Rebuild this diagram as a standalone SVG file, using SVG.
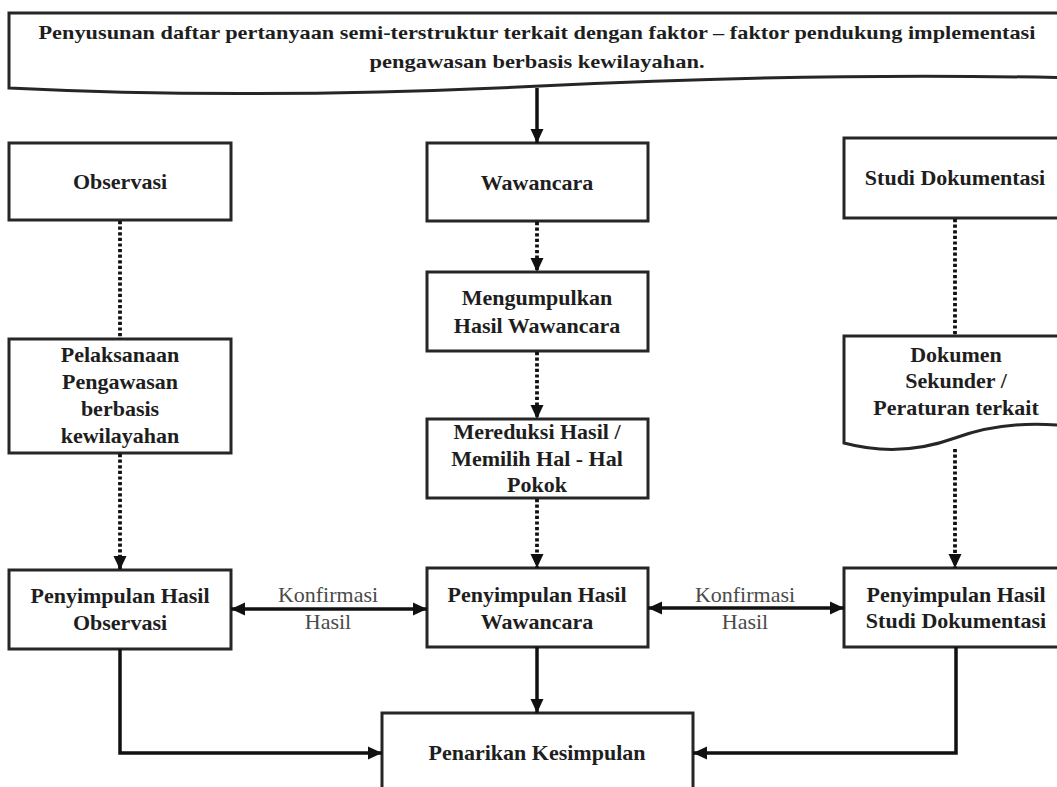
<svg xmlns="http://www.w3.org/2000/svg" width="1057" height="787" viewBox="0 0 1057 787">
<style>
.box{fill:#fff;stroke:#262626;stroke-width:3}
.t{font-family:"Liberation Serif","Times New Roman",serif;font-weight:bold;font-size:22px;fill:#1e1e1e;text-anchor:middle}
.top{font-family:"Liberation Serif","Times New Roman",serif;font-weight:bold;font-size:19px;fill:#1e1e1e;text-anchor:middle}
.lbl{font-family:"Liberation Serif","Times New Roman",serif;font-size:22px;fill:#4a4a4a;text-anchor:middle}
.solid{fill:none;stroke:#111;stroke-width:3.5}
.dot{fill:none;stroke:#111;stroke-width:3.8;stroke-dasharray:3.2 2.4}
</style>
<defs>
<marker id="ah" markerUnits="userSpaceOnUse" markerWidth="15" markerHeight="15" viewBox="0 0 15 15" refX="14" refY="7.5" orient="auto-start-reverse">
<path d="M0,1 L14,7.5 L0,14 Z" fill="#111"/>
</marker>
</defs>
<rect width="1057" height="787" fill="#fff"/>

<g id="top">
<path class="box" d="M9,13 H1075 V78 Q830,72 540,86 Q250,100 9,88 Z"/>
<text class="top" x="537" y="39" textLength="997" lengthAdjust="spacingAndGlyphs">Penyusunan daftar pertanyaan semi-terstruktur terkait dengan faktor – faktor pendukung implementasi</text>
<text class="top" x="537" y="68" textLength="335" lengthAdjust="spacingAndGlyphs">pengawasan berbasis kewilayahan.</text>
</g>

<g id="observasi">
<rect class="box" x="9" y="143" width="222" height="77"/>
<text class="t" x="120" y="189">Observasi</text>
</g>
<g id="wawancara">
<rect class="box" x="427" y="143" width="221" height="78"/>
<text class="t" x="537" y="190">Wawancara</text>
</g>
<g id="studi">
<rect class="box" x="844" y="138" width="226" height="80"/>
<text class="t" x="955" y="185">Studi Dokumentasi</text>
</g>

<g id="pelaksanaan">
<rect class="box" x="9" y="339" width="222" height="114"/>
<text class="t" x="120" y="362">Pelaksanaan</text>
<text class="t" x="120" y="389">Pengawasan</text>
<text class="t" x="120" y="416">berbasis</text>
<text class="t" x="120" y="443">kewilayahan</text>
</g>
<g id="mengumpulkan">
<rect class="box" x="427" y="272" width="221" height="79"/>
<text class="t" x="537" y="305">Mengumpulkan</text>
<text class="t" x="537" y="333">Hasil Wawancara</text>
</g>
<g id="mereduksi">
<rect class="box" x="427" y="419" width="221" height="79"/>
<text class="t" x="537" y="439">Mereduksi Hasil /</text>
<text class="t" x="537" y="466">Memilih Hal - Hal</text>
<text class="t" x="537" y="492">Pokok</text>
</g>
<g id="dokumen">
<path class="box" d="M844,336 H1075 V427 Q1010,418 955,438 Q900,458 844,443 Z"/>
<text class="t" x="956" y="362">Dokumen</text>
<text class="t" x="956" y="388">Sekunder /</text>
<text class="t" x="956" y="415">Peraturan terkait</text>
</g>

<g id="simpul-obs">
<rect class="box" x="9" y="570" width="222" height="79"/>
<text class="t" x="120" y="603">Penyimpulan Hasil</text>
<text class="t" x="120" y="630">Observasi</text>
</g>
<g id="simpul-waw">
<rect class="box" x="427" y="568" width="221" height="79"/>
<text class="t" x="537" y="602">Penyimpulan Hasil</text>
<text class="t" x="537" y="629">Wawancara</text>
</g>
<g id="simpul-studi">
<rect class="box" x="844" y="568" width="226" height="79"/>
<text class="t" x="956" y="602">Penyimpulan Hasil</text>
<text class="t" x="956" y="628">Studi Dokumentasi</text>
</g>
<g id="penarikan">
<rect class="box" x="382" y="713" width="311" height="90"/>
<text class="t" x="537" y="760">Penarikan Kesimpulan</text>
</g>

<g id="connectors">
<path class="solid" d="M537,88 V143" marker-end="url(#ah)"/>
<path class="dot" d="M120,221 V339"/>
<path class="dot" d="M120,454 V570" marker-end="url(#ah)"/>
<path class="dot" d="M537,222 V272" marker-end="url(#ah)"/>
<path class="dot" d="M537,352 V419" marker-end="url(#ah)"/>
<path class="dot" d="M537,499 V568" marker-end="url(#ah)"/>
<path class="dot" d="M955,219 V336"/>
<path class="dot" d="M955,449 V568" marker-end="url(#ah)"/>
<path class="solid" d="M231,609 H427" marker-start="url(#ah)" marker-end="url(#ah)"/>
<path class="solid" d="M648,608 H844" marker-start="url(#ah)" marker-end="url(#ah)"/>
<path class="solid" d="M120,649 V753 H382" marker-end="url(#ah)"/>
<path class="solid" d="M537,647 V713" marker-end="url(#ah)"/>
<path class="solid" d="M956,647 V753 H693" marker-end="url(#ah)"/>
<text class="lbl" x="328" y="602">Konfirmasi</text>
<text class="lbl" x="328" y="629">Hasil</text>
<text class="lbl" x="745" y="602">Konfirmasi</text>
<text class="lbl" x="745" y="629">Hasil</text>
</g>
</svg>
